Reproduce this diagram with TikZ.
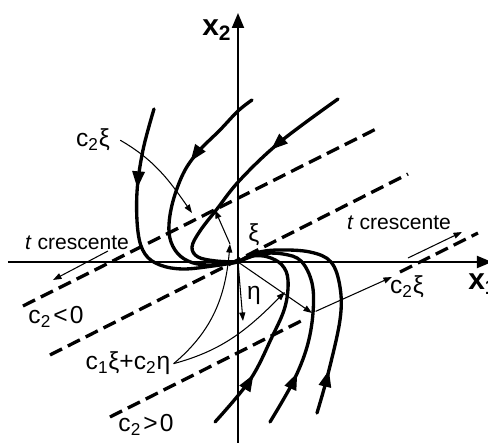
\documentclass[tikz,border=0pt]{standalone}
\usepackage{fontspec}
\setmainfont{Liberation Sans}
\usetikzlibrary{
  arrows.meta,
  calc,
  decorations.markings,
}
\tikzset{
  axisline/.style={
    line width=1.1pt, -{Triangle[length=3mm,width=2.4mm]},
  },
  trajline/.style={
    line width=1.9pt, line join=round, line cap=round,
  },
  eigline/.style={
    line width=1.9pt, dash pattern=on 0.27cm off 0.13cm,
  },
  thinarrow/.style={
    line width=0.6pt, -{Triangle[length=1.7mm,width=1.2mm]},
  },
  flowtip/.style={
    postaction={decorate},
    decoration={markings,
      mark=at position #1 with {\arrow{Triangle[length=3.4mm,width=2.4mm]}}},
  },
  lbl/.style={
    inner sep=0pt, anchor=base, font=\fontsize{14}{16}\selectfont,
  },
  timelbl/.style={
    lbl, font=\fontsize{12}{14}\selectfont,
  },
  axislbl/.style={
    inner sep=0pt, anchor=base west, font=\fontsize{17}{19}\selectfont\bfseries,
  },
}

\begin{document}
\begin{tikzpicture}[x=0.02cm, y=0.02cm]
\useasboundingbox (-238,-181) rectangle (250,262);

% axes
\draw[axisline] (-230,0) -- (254,0);
\draw[axisline] (0,-185) -- (0,249);
\node[axislbl] (xone) at (230,-28) {x\textsubscript{1}};
\node[axislbl] (xtwo) at (-36,226) {x\textsubscript{2}};

% lines parallel to xi
\draw[eigline] (-215,-44) -- (142,135);
\draw[eigline] (-188,-93) -- (170,88);
\draw[eigline] (-128,-155) -- (65,-58);
\draw[eigline] (162,-10) -- (240,29);

% trajectories, upper left
\draw[trajline, flowtip=0.33] plot[smooth, tension=0.6] coordinates {
  (-84,153) (-95,112) (-101,70) (-100,30) (-93,8) (-78,-3) (-55,-7) (-25,-4) (0,0)};
\draw[trajline, flowtip=0.35] plot[smooth, tension=0.6] coordinates {
  (14,162) (0,151) (-18,132) (-40,110) (-55,88) (-66,57) (-69,30) (-63,12) (-50,1) (-30,-3) (0,0)};
\draw[trajline, flowtip=0.32] plot[smooth, tension=0.6] coordinates {
  (100,163) (42,120) (2,82) (-21,53) (-38,31) (-46,15) (-40,5) (-22,1) (0,0)};

% trajectories, lower right
\draw[trajline, flowtip=0.27] plot[smooth, tension=0.6] coordinates {
  (-23,-160) (12,-118) (34,-75) (47,-45) (50,-18) (44,-3) (30,5) (14,6) (0,0)};
\draw[trajline, flowtip=0.235] plot[smooth, tension=0.6] coordinates {
  (32,-160) (55,-120) (69,-85) (75,-51) (74,-21) (63,1) (45,8) (22,8) (0,0)};
\draw[trajline, flowtip=0.176] plot[smooth, tension=0.6] coordinates {
  (79,-151) (90,-112) (102,-58) (102,-25) (93,0) (72,10) (40,12) (18,9) (0,0)};

% labels
\node[lbl] (cxiUp) at (-145,115) {c\textsubscript{2}ξ};
\node[lbl] (cxiDown) at (169,-32) {c\textsubscript{2}ξ};
\node[lbl] (cneg) at (-182,-62) {c\textsubscript{2}\kern1.2pt<\kern1.2pt0};
\node[lbl] (cpos) at (-92,-170) {c\textsubscript{2}\kern1.2pt>\kern1.2pt0};
\node[lbl] (combo) at (-110,-108) {c\textsubscript{1}ξ+c\textsubscript{2}η};
\node[timelbl] (tLeft) at (-161,12) {\textit{t} crescente};
\node[timelbl] (tRight) at (161,32) {\textit{t} crescente};
\node[lbl, anchor=center] (xiLbl) at (16,27) {ξ};
\node[lbl, anchor=center] (etaLbl) at (16,-33) {η};

% vectors and pointers
\coordinate (O) at (0,0);
\coordinate (pA) at (-8,18);
\coordinate (pXi) at (-23,52);
\coordinate (pXiNear) at (-46,49);
\coordinate (pB) at (47,-30);
\coordinate (pC) at (74,-51);
\coordinate (pEta) at (5,-59);
\coordinate (pCxi) at (154,-15);

\draw[thinarrow] ($(cxiUp.east)+(10,0)$) to[out=-30,in=125] (pXiNear);
\draw[thinarrow] ($(combo.east)+(3,0)$) to[out=40,in=-95] (pA);
\draw[thinarrow] ($(combo.east)+(3,0)$) to[out=15,in=-135] (pB);
\draw[thinarrow] (pA) -- (pXi);
\draw[thinarrow] (O) -- (pEta);
\draw[thinarrow] (O) -- (pC);
\draw[thinarrow, shorten <=0.08cm] (pC) -- (pCxi);

% direction of increasing t
\coordinate (tLa) at (-130,11);
\coordinate (tLb) at (-185,-18);
\coordinate (tRa) at (170,4);
\coordinate (tRb) at (224,30);
\draw[thinarrow] (tLa) -- (tLb);
\draw[thinarrow] (tRa) -- (tRb);

\end{tikzpicture}
\end{document}
